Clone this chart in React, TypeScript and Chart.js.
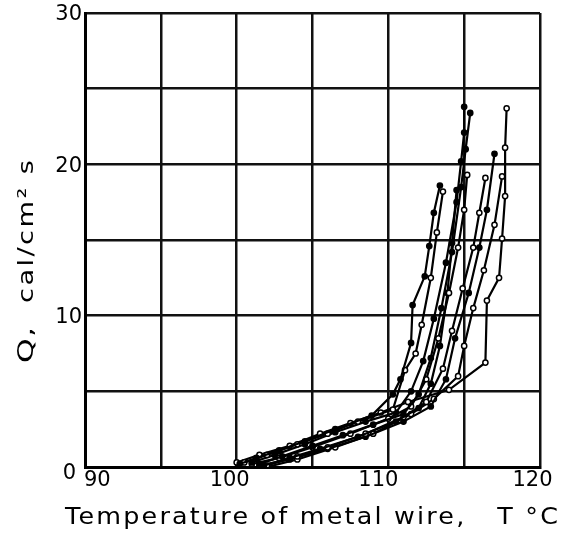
import React, { useEffect, useRef } from "react";
import { Chart, registerables } from "chart.js";

Chart.register(...registerables);

// Temperature of metal wire (°C) and heat flux Q (cal/cm² s)
const c1x = [100.2, 101.3, 102.8, 104.5, 106.5, 108.9, 110.3, 110.8, 111.5, 111.6, 112.4, 112.7, 113.0, 113.4];
const c1y = [0.2, 0.6, 1.1, 1.7, 2.5, 3.4, 4.8, 5.8, 8.2, 10.7, 12.6, 14.6, 16.8, 18.6];
const c2x = [100.5, 102.0, 104.0, 106.0, 108.0, 110.3, 111.1, 111.8, 112.2, 112.8, 113.2, 113.6];
const c2y = [0.3, 0.8, 1.5, 2.2, 3.0, 3.8, 6.4, 7.5, 9.4, 12.5, 15.5, 18.2];
const c3x = [101.0, 102.5, 104.5, 106.5, 108.5, 110.5, 111.5, 112.3, 113.0, 113.8, 114.5, 114.8, 115.0, 115.0];
const c3y = [0.3, 0.8, 1.5, 2.3, 3.0, 3.6, 5.0, 7.0, 9.8, 13.5, 17.5, 20.2, 22.1, 23.8];
const c4x = [101.5, 103.0, 105.0, 107.0, 109.0, 111.0, 112.0, 112.8, 113.5, 114.2, 114.8, 115.1, 115.4];
const c4y = [0.2, 0.7, 1.4, 2.1, 2.8, 3.5, 4.8, 7.2, 10.5, 14.2, 18.5, 21.0, 23.4];
const c5x = [101.0, 102.8, 105.0, 107.5, 110.0, 111.5, 112.5, 113.3, 114.0, 114.6, 115.0, 115.2];
const c5y = [0.2, 0.6, 1.3, 2.2, 3.2, 4.0, 5.8, 8.5, 11.5, 14.5, 17.0, 19.3];
const c6x = [101.8, 103.5, 105.5, 108.0, 110.5, 112.0, 112.8, 113.4, 113.9, 114.2, 114.5];
const c6y = [0.1, 0.6, 1.2, 2.0, 3.0, 3.9, 5.5, 8.0, 11.5, 14.8, 18.3];
const c7x = [102.0, 104.0, 106.0, 108.5, 111.0, 112.5, 113.6, 114.2, 114.9, 115.6, 116.0, 116.4];
const c7y = [0.1, 0.7, 1.3, 2.2, 3.3, 4.3, 6.5, 9.0, 11.8, 14.5, 16.8, 19.1];
const c8x = [101.5, 103.5, 106.0, 108.5, 111.0, 112.8, 113.8, 114.4, 115.3, 116.0, 116.5, 117.0];
const c8y = [0.1, 0.5, 1.2, 2.0, 3.0, 4.0, 5.8, 8.5, 11.5, 14.5, 17.0, 20.7];
const c9x = [102.0, 104.0, 106.5, 109.0, 111.5, 113.0, 114.6, 115.0, 115.6, 116.3, 117.0, 117.5];
const c9y = [0.0, 0.5, 1.3, 2.2, 3.5, 4.5, 6.0, 8.0, 10.5, 13.0, 16.0, 19.2];
const c10x = [100.0, 101.5, 103.5, 105.5, 107.5, 109.5, 111.3, 114.0, 116.4, 116.5, 117.3, 117.5, 117.7, 117.7, 117.8];
const c10y = [0.3, 0.8, 1.4, 2.2, 2.9, 3.6, 4.3, 5.1, 6.9, 11.0, 12.5, 15.1, 17.9, 21.1, 23.7];

const seriesX = [c1x, c2x, c3x, c4x, c5x, c6x, c7x, c8x, c9x, c10x];
const seriesY = [c1y, c2y, c3y, c4y, c5y, c6y, c7y, c8y, c9y, c10y];
const seriesOpen = [false, true, false, false, true, false, true, false, true, true];

const xTickLabels = [90, 100, 110, 120];
const yTickLabels = [0, 10, 20, 30];
const xTitle = "Temperature of metal wire,   T °C";
const yTitleA = "Q,";
const yTitleB = "cal/cm² s";

const FONT = "'DejaVu Sans', sans-serif";

// draw text stretched to a given width (left edge at x, baseline at y)
function fitText(ctx: CanvasRenderingContext2D, text: string, x: number, y: number, width: number, spacing: number) {
  (ctx as any).letterSpacing = `${spacing}px`;
  const w = ctx.measureText(text).width - spacing;
  ctx.save();
  ctx.translate(x, y);
  ctx.scale(width / w, 1);
  ctx.textAlign = "left";
  ctx.textBaseline = "alphabetic";
  ctx.fillText(text, 0, 0);
  ctx.restore();
  (ctx as any).letterSpacing = "0px";
}

const textPlugin = {
  id: "textPlugin",
  afterDraw(chart: any) {
    const ctx = chart.ctx as CanvasRenderingContext2D;
    const xs = chart.scales.x;
    const ys = chart.scales.y;
    ctx.save();
    ctx.fillStyle = "#000";
    ctx.font = `21px ${FONT}`;
    ctx.textBaseline = "middle";
    // x tick labels
    const nudge: Record<number, number> = { 100: -7, 110: -10, 120: -7.5 };
    xTickLabels.forEach((v, i) => {
      const px = xs.getPixelForValue(v);
      if (i === 0) {
        ctx.textAlign = "left";
        ctx.fillText(String(v), px - 1, ys.bottom + 14);
      } else {
        ctx.textAlign = "center";
        ctx.fillText(String(v), px + (nudge[v] ?? 0), ys.bottom + 14);
      }
    });
    // y tick labels
    ctx.textAlign = "right";
    yTickLabels.forEach((v) => {
      const py = ys.getPixelForValue(v);
      if (v === 0) ctx.fillText(String(v), xs.left - 9, py + 7);
      else ctx.fillText(String(v), xs.left - 3, py + 2);
    });
    // x title
    ctx.font = `23px ${FONT}`;
    fitText(ctx, xTitle, 65, 524, 493, 2);
    // y title (rotated)
    ctx.font = `22px ${FONT}`;
    ctx.save();
    ctx.translate(33, 0);
    ctx.rotate(-Math.PI / 2);
    fitText(ctx, yTitleA, -363, 0, 36, 1);
    fitText(ctx, yTitleB, -303, 0, 143, 2);
    ctx.restore();
    ctx.restore();
  },
};

export default function App() {
  const ref = useRef<HTMLCanvasElement>(null);
  useEffect(() => {
    if (!ref.current) return;
    const datasets = seriesX.map((xs, i) => ({
      label: `run ${i + 1}`,
      data: xs.map((x, j) => ({ x, y: seriesY[i][j] })),
      borderColor: "#000",
      borderWidth: 2.2,
      pointRadius: 2.6,
      pointBorderWidth: 1.5,
      pointBorderColor: "#000",
      pointBackgroundColor: seriesOpen[i] ? "#fff" : "#000",
      showLine: true,
      tension: 0,
    }));
    const chart = new Chart(ref.current, {
      type: "scatter",
      data: { datasets },
      options: {
        animation: false,
        responsive: false,
        layout: { padding: { left: 85, top: 13, right: 21, bottom: 66 } },
        plugins: { legend: { display: false }, tooltip: { enabled: false } },
        scales: {
          x: {
            type: "linear",
            min: 90,
            max: 120,
            ticks: { stepSize: 5, display: false },
            grid: { color: "#111", lineWidth: 2.5, drawTicks: false },
            border: { display: true, color: "#000", width: 3 },
          },
          y: {
            type: "linear",
            min: 0,
            max: 30,
            ticks: { stepSize: 5, display: false },
            grid: { color: "#111", lineWidth: 2.5, drawTicks: false },
            border: { display: true, color: "#000", width: 3 },
          },
        },
      },
      plugins: [textPlugin],
    });
    return () => chart.destroy();
  }, []);
  return (
    <div style={{ position: "absolute", left: 0, top: 0, width: 561, height: 533, background: "#fff" }}>
      <canvas ref={ref} width={561} height={533} style={{ width: 561, height: 533 }} />
    </div>
  );
}
